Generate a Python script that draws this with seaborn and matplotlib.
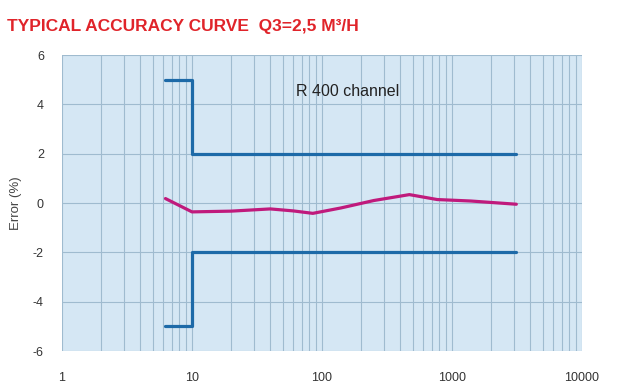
import matplotlib
matplotlib.use('Agg')
import matplotlib.pyplot as plt
import seaborn as sns
import pandas as pd
from matplotlib.ticker import FixedLocator, LogLocator, NullFormatter

# Dados (vazão em L/h, erro em %)
flow = [6.25, 10, 20, 40, 60, 85, 140, 250, 470, 770, 1400, 3125]
error = [0.18, -0.36, -0.33, -0.24, -0.32, -0.42, -0.2, 0.1, 0.34, 0.14, 0.08, -0.05]

# Limites de erro máximo admissível
limit_x = [6.25, 10, 10, 3125]
upper_y = [5, 5, 2, 2]
lower_y = [-5, -5, -2, -2]

x_ticks = [1, 10, 100, 1000, 10000]
y_ticks = [-6, -4, -2, 0, 2, 4, 6]

sns.set_style('white', {'axes.facecolor': '#d5e7f4'})
plt.rcParams['font.family'] = ['Liberation Sans', 'DejaVu Sans']

fig = plt.figure(figsize=(6.27, 3.89), dpi=100)
ax = fig.add_axes([62 / 627, 1 - 351 / 389, 520 / 627, 296 / 389])

blue = '#1d6aa8'
df_up = pd.DataFrame({'x': limit_x, 'y': upper_y})
df_lo = pd.DataFrame({'x': limit_x, 'y': lower_y})
df_err = pd.DataFrame({'x': flow, 'y': error})
sns.lineplot(data=df_up, x='x', y='y', sort=False, estimator=None, color=blue, lw=2.3, ax=ax)
sns.lineplot(data=df_lo, x='x', y='y', sort=False, estimator=None, color=blue, lw=2.3, ax=ax)
sns.lineplot(data=df_err, x='x', y='y', sort=False, estimator=None, color='#c01a7c', lw=2.3, ax=ax)

ax.set_xscale('log')
ax.set_xlim(1, 10000)
ax.set_ylim(-6, 6)
ax.xaxis.set_major_locator(FixedLocator(x_ticks))
ax.set_xticklabels([str(t) for t in x_ticks])
ax.xaxis.set_minor_locator(LogLocator(base=10, subs=range(2, 10)))
ax.xaxis.set_minor_formatter(NullFormatter())
ax.set_yticks(y_ticks)
ax.set_yticklabels([str(t) for t in y_ticks])

grid_c = '#9fbbcf'
ax.grid(True, which='both', axis='x', color=grid_c, lw=0.8)
ax.grid(True, which='major', axis='y', color=grid_c, lw=0.8)
ax.set_axisbelow(True)
for s in ax.spines.values():
    s.set_visible(False)

ax.tick_params(axis='y', which='major', length=5, width=0.8, color=grid_c,
               pad=8, labelsize=9, labelcolor='#333333')
ax.tick_params(axis='x', which='both', length=0, pad=15, labelsize=9, labelcolor='#333333')

ax.set_xlabel('')
ax.set_ylabel('Error (%)', fontsize=9.5, color='#444444', labelpad=8)

ax.text(63, 4.5, 'R 400 channel', fontsize=11.5, color='#222222', ha='left', va='center')

fig.text(7 / 627, 1 - 26 / 389, 'TYPICAL ACCURACY CURVE  Q3=2,5 M³/H', color='#e0242a',
         fontsize=12.5, fontweight='bold', ha='left', va='center',
         family=['Liberation Sans Narrow', 'Liberation Sans', 'DejaVu Sans'])

fig.savefig('out.png', dpi=100)
